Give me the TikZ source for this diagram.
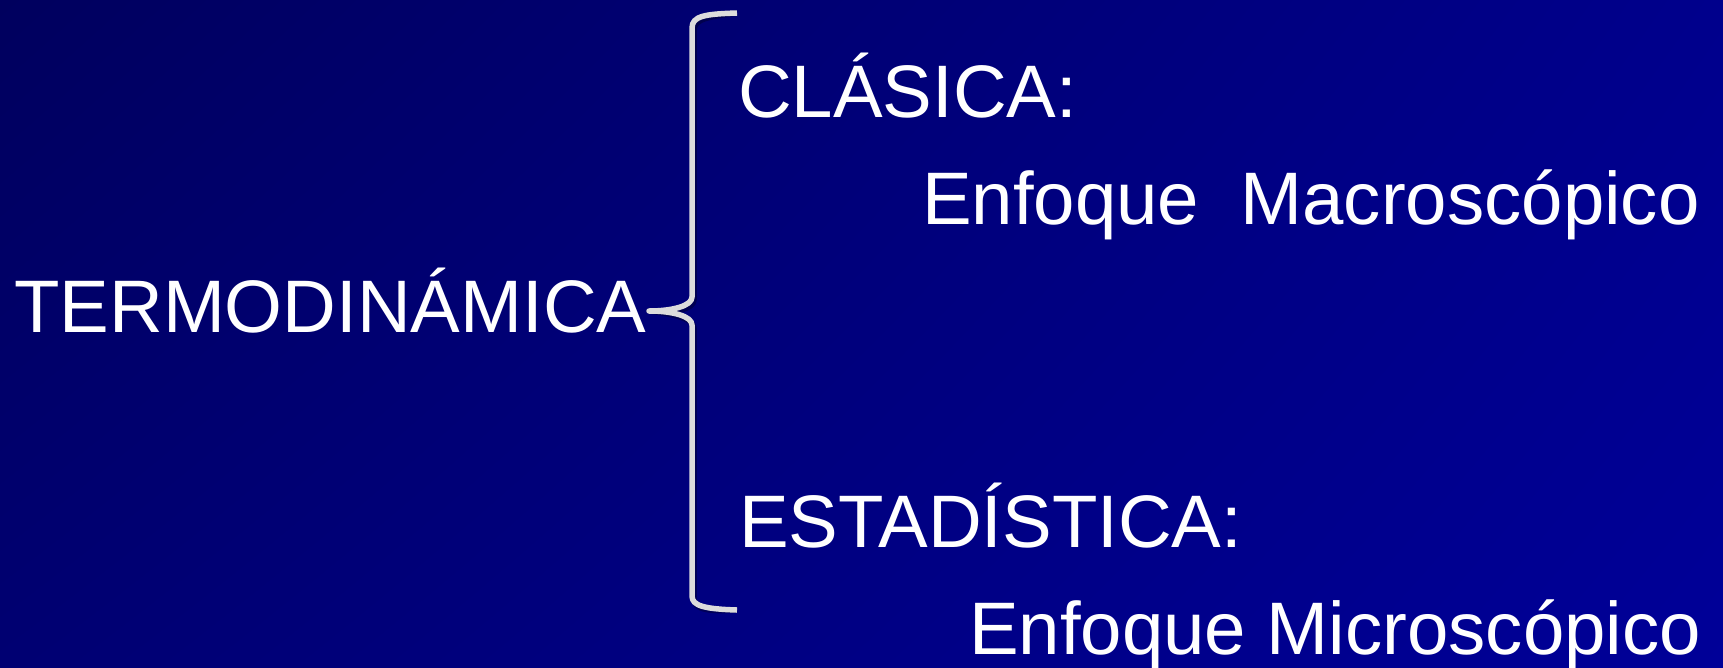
\documentclass[tikz,border=0pt]{standalone}
\usepackage{fontspec}
\setmainfont{Liberation Sans}
\usetikzlibrary{positioning, calc, shadings}
\definecolor{navytl}{HTML}{00005E}
\definecolor{navytr}{HTML}{00008C}
\definecolor{navybl}{HTML}{000072}
\definecolor{navybr}{HTML}{000098}
\definecolor{bracegray}{HTML}{DCDCDC}

% the curly bracket, drawn in pixel units
\newcommand{\bracketpath}{(armtop) .. controls (705,14) and (692,16) .. (692,28) -- (692,297)
  .. controls (692,306) and (672,311) .. (tip) .. controls (672,311) and (692,316) .. (692,325)
  -- (692,596) .. controls (692,606) and (705,609) .. (armbot)}

\begin{document}
\begin{tikzpicture}[x=1pt, y=-1pt,
    title/.style={anchor=base west, inner sep=0pt, text=white, font=\fontsize{74.4}{80}\selectfont},
    bracket/.style={draw=bracegray, line width=5.5pt, line join=round}]
  \useasboundingbox (0,0) rectangle (1723,667);
  \shade[upper left=navytl, upper right=navytr, lower left=navybl, lower right=navybr] (0,0) rectangle (1723,667);

  \node[title] (termo) at (14,332) {TERMODINÁMICA};
  \node[title] (clasica) at (738,117) {CLÁSICA:};
  \node[title] (macro) at (922,224) {Enfoque\ \ Macroscópico};
  \node[title] (estad) at (739,547) {ESTADÍSTICA:};
  \node[title] (micro) at (969,654) {Enfoque Microscópico};

  \coordinate (armtop) at (737,13);
  \coordinate (armbot) at (737,610);
  \coordinate (tip) at (649,311);

  % soft shadow, then the bracket itself
  \draw[bracket, draw=black, opacity=0.3, shift={(2,3)}] \bracketpath;
  \draw[bracket] \bracketpath;
\end{tikzpicture}
\end{document}
